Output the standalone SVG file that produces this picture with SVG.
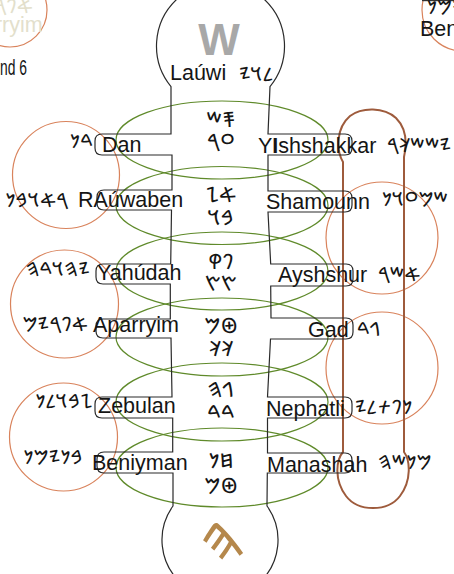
<svg xmlns="http://www.w3.org/2000/svg" width="454" height="574" viewBox="0 0 454 574">
<style>
.lbl{font-family:"Liberation Sans",Arial,sans-serif;font-size:21.5px;fill:#151515}
.ph{font-family:"Noto Sans Phoenician","Noto Sans","DejaVu Sans",sans-serif;font-size:19.5px;fill:#151515}
.phc{font-family:"Noto Sans Phoenician","Noto Sans","DejaVu Sans",sans-serif;font-size:21px;fill:#151515;text-anchor:middle}
.ell{fill:none;stroke:#5f8a2a;stroke-width:1.2}
.circ{fill:none;stroke:#d9835c;stroke-width:1.2}
.col{fill:none;stroke:#2a2a2a;stroke-width:1.2}
.pill{fill:none;stroke:#9e5b3c;stroke-width:2}
.ghost{fill:#e3dfcc}
</style>
<g id="fragments">
<circle class="circ" cx="10" cy="10" r="37"/>
<text class="ph ghost" x="33" y="13" text-anchor="end">𐤀𐤐𐤓𐤉𐤌</text>
<text class="lbl ghost" x="42.7" y="31.5" text-anchor="end">Aparryim</text>
<text class="lbl" x="0" y="75" font-size="20" textLength="27" lengthAdjust="spacingAndGlyphs">nd 6</text>
<circle class="circ" cx="463" cy="10" r="41"/>
<line x1="422" y1="0.6" x2="454" y2="0.6" stroke="#333" stroke-width="1.2"/>
<text class="ph" x="427" y="14">𐤁𐤍𐤉𐤌𐤍</text>
<text class="lbl" x="420" y="36" font-size="18">Ben</text>
</g>
<g id="ellipses">
<ellipse class="ell" cx="222" cy="140" rx="106" ry="39"/>
<ellipse class="ell" cx="222" cy="205.5" rx="106" ry="39"/>
<ellipse class="ell" cx="222" cy="271" rx="106" ry="39"/>
<ellipse class="ell" cx="222" cy="337" rx="106" ry="39"/>
<ellipse class="ell" cx="222" cy="402" rx="106" ry="39"/>
<ellipse class="ell" cx="222" cy="467.5" rx="106" ry="39.5"/>
</g>
<g id="circles">
<circle class="circ" cx="66" cy="175" r="53.5"/>
<circle class="circ" cx="64.5" cy="304" r="54"/>
<circle class="circ" cx="63.5" cy="437" r="54"/>
<circle class="circ" cx="382" cy="238" r="56"/>
<circle class="circ" cx="382" cy="368" r="56"/>
</g>
<g id="pill">
<path class="pill" d="M343,162 C336,150 336,128 350,116 C362,107 384,107 396,118 C408,130 406,148 404,157 L404,452 C410,460 412,480 400,496 C388,512 358,512 346,496 C334,480 336,460 343,452 Z"/>
</g>
<g id="column">
<path class="col" d="M171,86.6 A64,64 0 1 1 270,86.6
L268,134 L345,134 Q352,134 352,141 L352,148 Q352,155 345,155 L268,155
L268,191 L345,191 Q352,191 352,198 L352,205 Q352,212 345,212 L268,212
L270.7,264 L346,264 Q353,264 353,271 L353,279 Q353,286 346,286 L270.7,286
L271,318 L346,318 Q353,318 353,325 L353,332 Q353,339 346,339 L270.5,339
L267.5,397 L345,397 Q352,397 352,404 L352,411 Q352,418 345,418 L267.5,418
L267.5,453 L345,453 Q352,453 352,460 L352,466 Q352,473 345,473 L267.3,473
L267,506 A58,58 0 1 1 173,506
L173,473 L104,473 Q97,473 97,466 L97,459 Q97,452 104,452 L172.7,452
L172.7,418 L102,418 Q95,418 95,411 L95,404 Q95,397 102,397 L172,397
L171,338 L103,338 Q96,338 96,331 L96,326 Q96,319 103,319 L170.3,319
L170.3,284 L103,284 Q96,284 96,277 L96,271 Q96,264 103,264 L170.7,264
L171.5,210 L104,210 Q97,210 97,203 L97,197 Q97,190 104,190 L172,190
L172,155 L102,155 Q95,155 95,148 L95,141 Q95,134 102,134 L171,134 Z"/>
<text x="219" y="55" font-family="Liberation Sans,Arial,sans-serif" font-size="44" font-weight="bold" fill="#a8a8a8" text-anchor="middle">W</text>
<text x="222" y="561" font-family="Noto Sans Phoenician,Noto Sans,sans-serif" font-size="54" fill="#b5884c" text-anchor="middle" transform="rotate(-22 222 543)">𐤄</text>
</g>
<g id="node-lauwi">
<text class="lbl" x="170" y="80">Laúwi</text>
<text class="ph" x="239" y="81">𐤋𐤅𐤉</text>
</g>
<g id="node-dan">
<text class="lbl" x="102" y="152">Dan</text>
<text class="ph" x="93" y="148" text-anchor="end">𐤃𐤍</text>
</g>
<g id="node-rauwaben">
<text class="lbl" x="78" y="207">RAúwaben</text>
<text class="ph" x="68" y="207" text-anchor="end">𐤓𐤀𐤅𐤁𐤍</text>
</g>
<g id="node-yahudah">
<text class="lbl" x="97" y="280">Yahúdah</text>
<text class="ph" x="90" y="276" text-anchor="end">𐤉𐤄𐤅𐤃𐤄</text>
</g>
<g id="node-aparryim">
<text class="lbl" x="93" y="332">Aparryim</text>
<text class="ph" x="88" y="331" text-anchor="end">𐤀𐤐𐤓𐤉𐤌</text>
</g>
<g id="node-zebulan">
<text class="lbl" x="98" y="413">Zebulan</text>
<text class="ph" x="93" y="408" text-anchor="end">𐤆𐤁𐤅𐤋𐤍</text>
</g>
<g id="node-beniyman">
<text class="lbl" x="92" y="470">Beniyman</text>
<text class="ph" x="83" y="464" text-anchor="end">𐤁𐤍𐤉𐤌𐤍</text>
</g>
<g id="node-yishshakkar">
<text class="lbl" x="258" y="153">Y<tspan font-weight="bold">I</tspan>shshakkar</text>
<text class="ph" x="387" y="152">𐤉𐤔𐤔𐤊𐤓</text>
</g>
<g id="node-shamounn">
<text class="lbl" x="266" y="209">Shamounn</text>
<text class="ph" x="382" y="206">𐤔𐤌𐤏𐤅𐤍</text>
</g>
<g id="node-ayshshur">
<text class="lbl" x="278" y="282">Ayshshur</text>
<text class="ph" x="378" y="281">𐤀𐤔𐤓</text>
</g>
<g id="node-gad">
<text class="lbl" x="308" y="337">Gad</text>
<text class="ph" x="357" y="336">𐤂𐤃</text>
</g>
<g id="node-nephatli">
<text class="lbl" x="266" y="416">Nephatli</text>
<text class="ph" x="355" y="414">𐤍𐤐𐤕𐤋𐤉</text>
</g>
<g id="node-manashah">
<text class="lbl" x="267" y="472">Manashah</text>
<text class="ph" x="378" y="469">𐤌𐤍𐤔𐤄</text>
</g>
<g id="center-glyphs">
<text class="phc" x="221" y="127">𐤎𐤔</text>
<text class="phc" x="221" y="149">𐤏𐤓</text>
<text class="phc" x="221" y="202">𐤀𐤆</text>
<text class="phc" x="221" y="225">𐤁𐤅</text>
<text class="phc" x="221" y="269">𐤐𐤒</text>
<text class="phc" x="221" y="291">𐤑𐤑</text>
<text class="phc" x="221" y="333">𐤈𐤌</text>
<text class="phc" x="221" y="356">𐤊𐤊</text>
<text class="phc" x="221" y="397">𐤂𐤄</text>
<text class="phc" x="221" y="420">𐤃𐤃</text>
<text class="phc" x="221" y="468">𐤇𐤍</text>
<text class="phc" x="221" y="493">𐤈𐤌</text>
</g>
</svg>
